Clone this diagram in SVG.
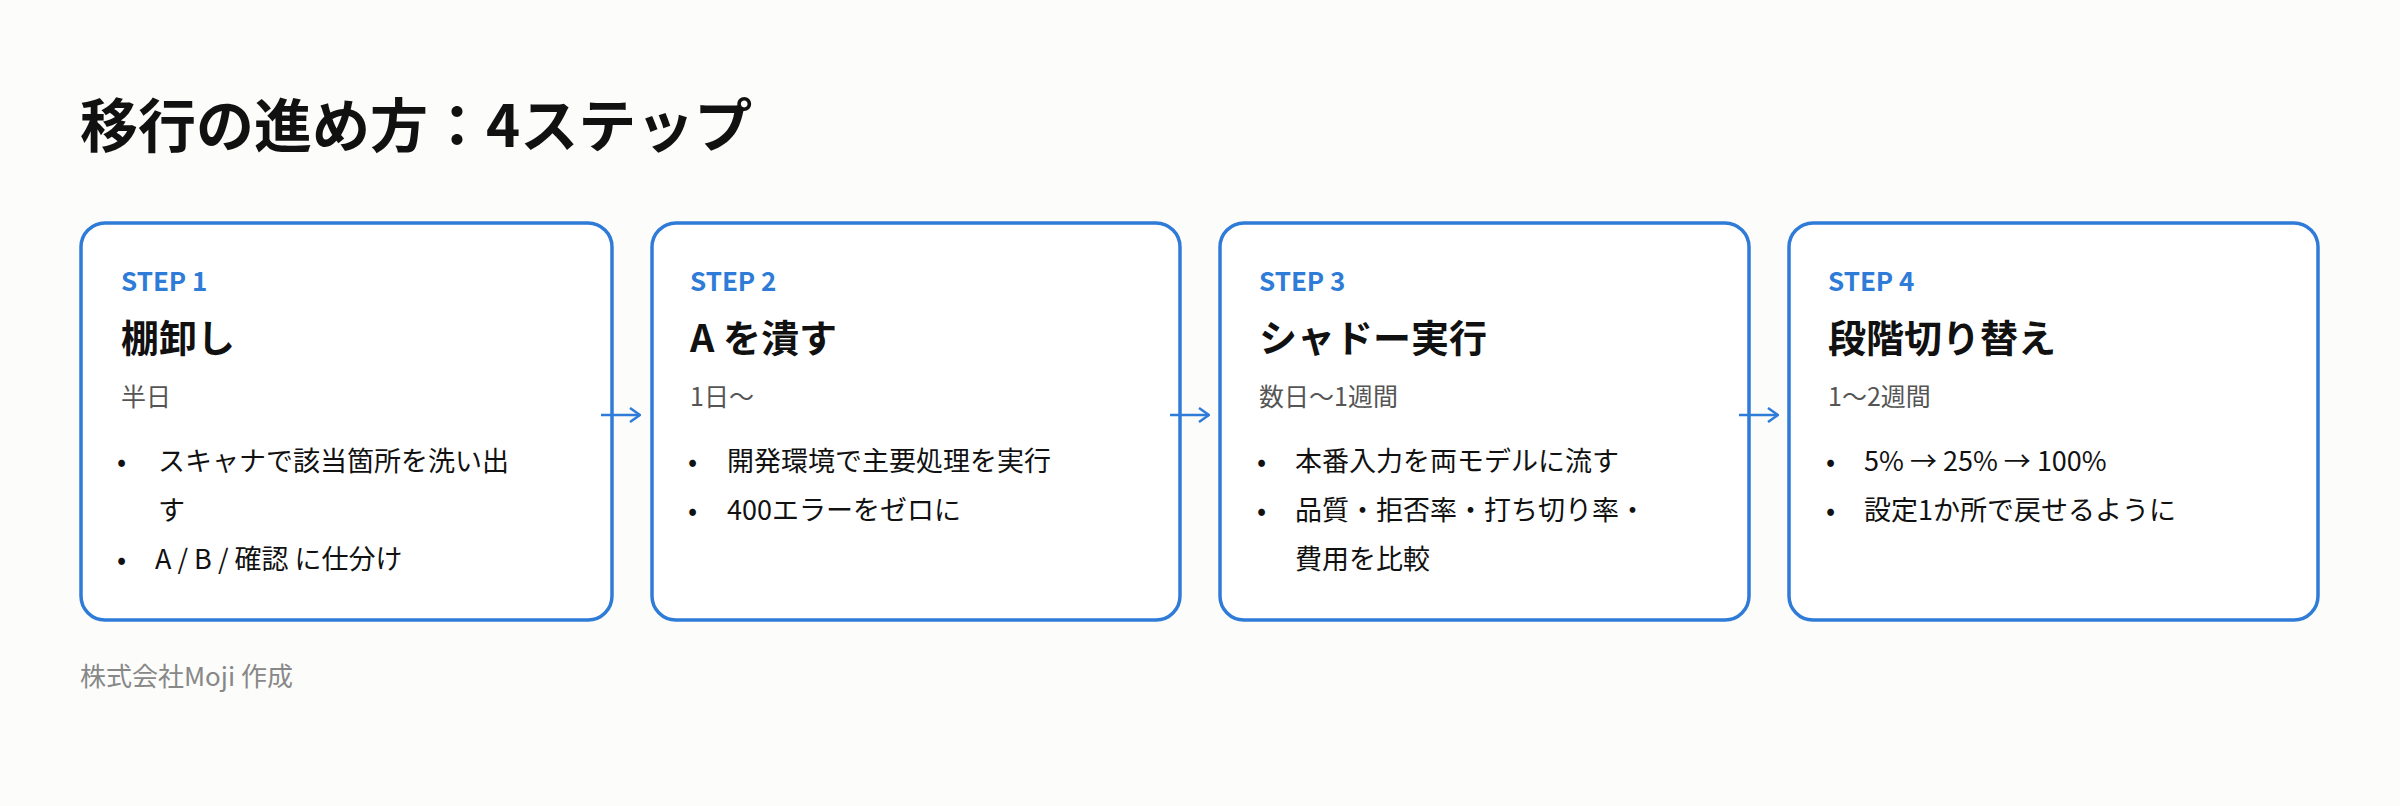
<svg xmlns="http://www.w3.org/2000/svg" width="2400" height="806" viewBox="0 0 2400 806">
<defs>
<marker id="ah" viewBox="0 0 12 16" refX="11" refY="8" markerWidth="12" markerHeight="16" markerUnits="userSpaceOnUse" orient="auto"><path d="M1 1 L11 8 L1 15" fill="none" stroke="#2f7bd8" stroke-width="2.5"/></marker>
</defs>
<style>
text{font-family:"Noto Sans CJK JP","Noto Sans",sans-serif}
.card{fill:#fff;stroke:#2f7bd8;stroke-width:3.5}
.step{font-size:26px;font-weight:700;fill:#2f7bd8}
.h{font-size:38px;font-weight:700;fill:#111}
.d{font-size:25px;fill:#555}
.b{font-size:27px;fill:#111}
.c{stroke:#2f7bd8;stroke-width:2.5;fill:none}
</style>
<rect width="2400" height="806" fill="#fcfcfa"/>
<text x="80" y="147" font-size="58" font-weight="700" fill="#111">移行の進め方：4ステップ</text>
<g id="step1">
<rect class="card" x="81" y="223" width="531" height="397" rx="24"/>
<text class="step" x="121" y="291">STEP 1</text>
<text class="h" x="121" y="352">棚卸し</text>
<text class="d" x="121" y="406">半日</text>
<text class="b"><tspan x="117" y="471">•</tspan><tspan x="158" y="471">スキャナで該当箇所を洗い出</tspan><tspan x="158" y="520">す</tspan><tspan x="117" y="569">•</tspan><tspan x="155" y="569">A / B / 確認 に仕分け</tspan></text>
</g>
<g id="step2">
<rect class="card" x="652" y="223" width="528" height="397" rx="24"/>
<text class="step" x="690" y="291">STEP 2</text>
<text class="h" x="690" y="352">A を潰す</text>
<text class="d" x="690" y="406">1日〜</text>
<text class="b"><tspan x="688" y="471">•</tspan><tspan x="727" y="471">開発環境で主要処理を実行</tspan><tspan x="688" y="520">•</tspan><tspan x="727" y="520">400エラーをゼロに</tspan></text>
</g>
<g id="step3">
<rect class="card" x="1220" y="223" width="529" height="397" rx="24"/>
<text class="step" x="1259" y="291">STEP 3</text>
<text class="h" x="1259" y="352">シャドー実行</text>
<text class="d" x="1259" y="406">数日〜1週間</text>
<text class="b"><tspan x="1257" y="471">•</tspan><tspan x="1295" y="471">本番入力を両モデルに流す</tspan><tspan x="1257" y="520">•</tspan><tspan x="1295" y="520">品質・拒否率・打ち切り率・</tspan><tspan x="1295" y="569">費用を比較</tspan></text>
</g>
<g id="step4">
<rect class="card" x="1789" y="223" width="529" height="397" rx="24"/>
<text class="step" x="1828" y="291">STEP 4</text>
<text class="h" x="1828" y="352">段階切り替え</text>
<text class="d" x="1828" y="406">1〜2週間</text>
<text class="b"><tspan x="1826" y="471">•</tspan><tspan x="1864" y="471">5% → 25% → 100%</tspan><tspan x="1826" y="520">•</tspan><tspan x="1864" y="520">設定1か所で戻せるように</tspan></text>
</g>
<g id="connectors">
<line class="c" x1="601" y1="415" x2="640" y2="415" marker-end="url(#ah)"/>
<line class="c" x1="1170" y1="415" x2="1209" y2="415" marker-end="url(#ah)"/>
<line class="c" x1="1739" y1="415" x2="1778" y2="415" marker-end="url(#ah)"/>
</g>
<text x="80" y="686" font-size="26" fill="#888">株式会社Moji 作成</text>
</svg>
